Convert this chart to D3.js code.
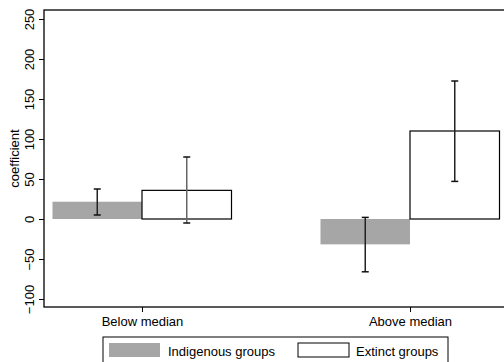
<!DOCTYPE html>
<html>
<head>
<meta charset="utf-8">
<script src="https://cdn.jsdelivr.net/npm/d3@7"></script>
<style>
  body { margin: 0; background: #fff; }
  svg { display: block; font-family: "Liberation Sans", Arial, sans-serif; }
</style>
</head>
<body>
<svg id="chart" width="504" height="362"></svg>
<script>
const groups = ["Below median", "Above median"];
const seriesNames = ["Indigenous groups", "Extinct groups"];
const coefIndigenous = [21.6, -31.7];
const ciIndigenous = [[5, 37.5], [-66, 2]];
const coefExtinct = [35.8, 110];
const ciExtinct = [[-5, 77.5], [47, 172.5]];
const yTicks = [-100, -50, 0, 50, 100, 150, 200, 250];

const svg = d3.select("#chart");
const margin = { top: 10, left: 44, right: -4, bottom: 55 };
const width = 504 - margin.left - margin.right;
const height = 362 - margin.top - margin.bottom;

const fills = ["#a6a6a6", "#ffffff"];
const fontSize = 13;

const y = d3.scaleLinear().domain([-110, 261.25]).range([height, 0]);
// each group sits around its centre, indigenous bar left, extinct bar right
const x = d3.scaleLinear().domain([0, 1]).range([98, 366]);
const barW = 89.5;

const g = svg.append("g").attr("transform", `translate(${margin.left},${margin.top})`);

const data = [];
groups.forEach((grp, i) => {
  data.push({ grp: i, s: 0, v: coefIndigenous[i], ci: ciIndigenous[i] });
  data.push({ grp: i, s: 1, v: coefExtinct[i], ci: ciExtinct[i] });
});

const barMid = d => x(d.grp) + (d.s === 0 ? -barW / 2 : barW / 2);

g.selectAll("rect.bar")
  .data(data)
  .enter()
  .append("rect")
  .attr("class", "bar")
  .attr("x", d => x(d.grp) + (d.s === 0 ? -barW : 0))
  .attr("width", barW)
  .attr("y", d => y(Math.max(0, d.v)))
  .attr("height", d => Math.abs(y(d.v) - y(0)))
  .attr("fill", d => fills[d.s])
  .attr("stroke", d => d.s === 1 ? "#000" : "none")
  .attr("stroke-width", 1.2);

// error bars
const eb = g.selectAll("g.err")
  .data(data)
  .enter()
  .append("g")
  .attr("class", "err")
  .attr("stroke-width", 1.5);
eb.append("line")
  .attr("stroke", d => (d.s === 1 && d.grp === 0) ? "#666" : "#222")
  .attr("x1", barMid)
  .attr("x2", barMid)
  .attr("y1", d => y(d.ci[0]))
  .attr("y2", d => y(d.ci[1]));
[0, 1].forEach(k => {
  eb.append("line")
    .attr("stroke", "#111")
    .attr("x1", d => barMid(d) - 3.5)
    .attr("x2", d => barMid(d) + 3.5)
    .attr("y1", d => y(d.ci[k]))
    .attr("y2", d => y(d.ci[k]));
});

// frame
g.append("rect")
  .attr("x", 0)
  .attr("y", 0)
  .attr("width", width + 10)
  .attr("height", height)
  .attr("fill", "none")
  .attr("stroke", "#000")
  .attr("stroke-width", 1.3);

// y axis
const yAxis = g.append("g")
  .call(d3.axisLeft(y).tickValues(yTicks).tickSize(5).tickPadding(3));
yAxis.select(".domain").remove();
yAxis.selectAll("text")
  .attr("font-size", fontSize)
  .attr("fill", "#000")
  .attr("transform", "rotate(-90)")
  .attr("x", 0)
  .attr("dy", "0em")
  .attr("y", -10.5)
  .style("text-anchor", "middle");

g.append("text")
  .attr("transform", `translate(${-25},${height / 2}) rotate(-90)`)
  .attr("text-anchor", "middle")
  .attr("font-size", fontSize)
  .text("coefficient");

// x axis
const xAxis = g.append("g")
  .attr("transform", `translate(0,${height})`)
  .call(d3.axisBottom(x).tickValues([0, 1]).tickFormat(i => groups[i]).tickSize(5).tickPadding(5));
xAxis.select(".domain").remove();
xAxis.selectAll("text").attr("font-size", fontSize).attr("fill", "#000");

// legend
const leg = svg.append("g").attr("transform", "translate(103,337)");
leg.append("rect")
  .attr("width", 345)
  .attr("height", 30)
  .attr("fill", "#fff")
  .attr("stroke", "#000")
  .attr("stroke-width", 1);
const items = [{ x: 6, tx: 65 }, { x: 195, tx: 253 }];
seriesNames.forEach((name, i) => {
  leg.append("rect")
    .attr("x", items[i].x)
    .attr("y", 6)
    .attr("width", 51)
    .attr("height", 14)
    .attr("fill", fills[i])
    .attr("stroke", i === 1 ? "#000" : "none");
  leg.append("text")
    .attr("x", items[i].tx)
    .attr("y", 19)
    .attr("font-size", fontSize)
    .text(name);
});
</script>
</body>
</html>
